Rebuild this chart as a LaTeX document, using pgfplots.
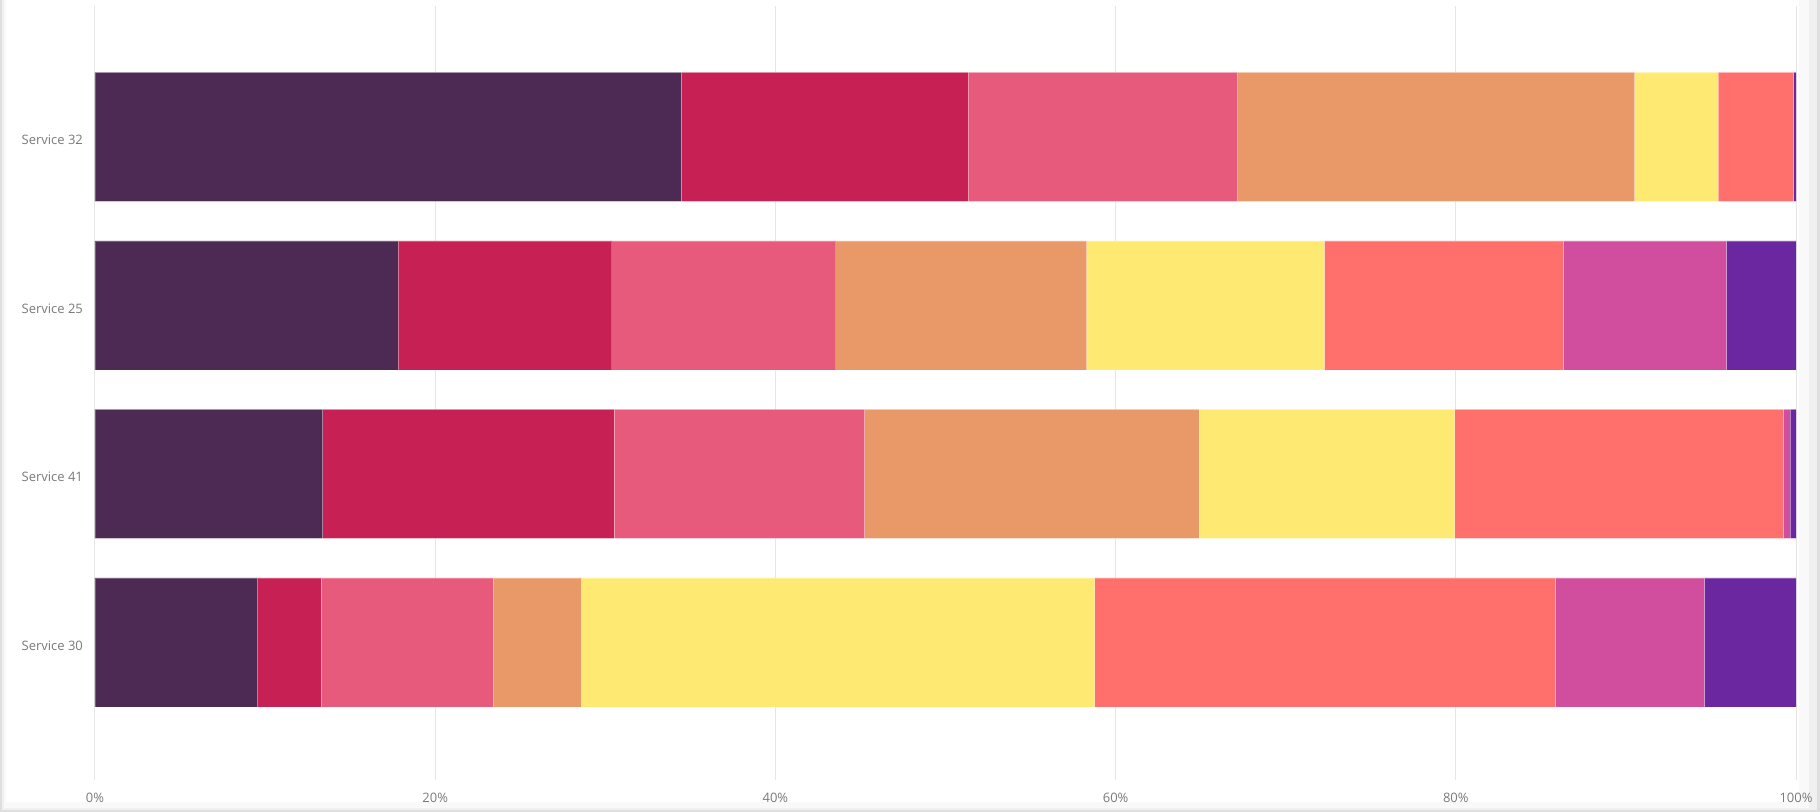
\documentclass[border=0pt]{standalone}
\usepackage{pgfplots}
\pgfplotsset{compat=1.18}
\usepackage{fontspec}
\setmainfont{Open Sans}
\definecolor{c1}{HTML}{4D2A54}
\definecolor{c2}{HTML}{C62054}
\definecolor{c3}{HTML}{E75A7C}
\definecolor{c4}{HTML}{E99967}
\definecolor{c5}{HTML}{FEEA72}
\definecolor{c6}{HTML}{FF6F6B}
\definecolor{c7}{HTML}{D04E9D}
\definecolor{c8}{HTML}{6B27A0}
\definecolor{tickgray}{HTML}{7A7A7A}
\definecolor{gridgray}{HTML}{E6E6E6}
\pgfplotstableread{
y  a     b     c     d     e     f     g     h
0  9.56  3.75  10.10 5.19  30.17 27.10 8.74  5.39
1  13.38 17.13 14.74 19.66 15.02 19.32 0.41  0.34
2  17.82 12.56 13.17 14.74 13.99 14.06 9.56  4.10
3  34.47 16.86 15.84 23.34 4.91  4.44  0.00  0.14
}\datatable
\begin{document}
\begin{tikzpicture}
\path[use as bounding box] (-47.5pt,-16pt) rectangle (862.5pt,390pt);
\fill[gray!25] (-47.5pt,-16pt) rectangle (862.5pt,390pt);
\fill[gray!12] (-46.5pt,-15pt) rectangle (861pt,390pt);
\fill[gray!5] (-45.5pt,-14pt) rectangle (857pt,390pt);
\fill[white] (-44.5pt,-11pt) rectangle (852pt,390pt);
\begin{axis}[
  at={(0,0)}, anchor=south west,
  scale only axis,
  width=850.5pt, height=387pt,
  xbar stacked,
  bar width=64.5pt,
  xmin=0, xmax=100,
  ymin=-0.817, ymax=3.777,
  xtick={0,20,40,60,80,100},
  xticklabels={0\%,20\%,40\%,60\%,80\%,100\%},
  ytick={0,1,2,3},
  yticklabels={Service 30,Service 41,Service 25,Service 32},
  xmajorgrids,
  grid style={gridgray, line width=0.5pt},
  axis line style={draw=none},
  major tick style={draw=none},
  tick label style={font=\fontsize{6.5}{7.8}\selectfont, text=tickgray},
  xticklabel style={yshift=-3pt},
  yticklabel style={xshift=-2.5pt, yshift=-1.6pt},
  /pgf/number format/assume math mode=true,
  every axis plot/.append style={draw=white, draw opacity=0.25, line width=0.3pt},
]
\addplot[fill=c1] table[x=a,y=y]{\datatable};
\addplot[fill=c2] table[x=b,y=y]{\datatable};
\addplot[fill=c3] table[x=c,y=y]{\datatable};
\addplot[fill=c4] table[x=d,y=y]{\datatable};
\addplot[fill=c5] table[x=e,y=y]{\datatable};
\addplot[fill=c6] table[x=f,y=y]{\datatable};
\addplot[fill=c7] table[x=g,y=y]{\datatable};
\addplot[fill=c8] table[x=h,y=y]{\datatable};
\end{axis}
\end{tikzpicture}
\end{document}
